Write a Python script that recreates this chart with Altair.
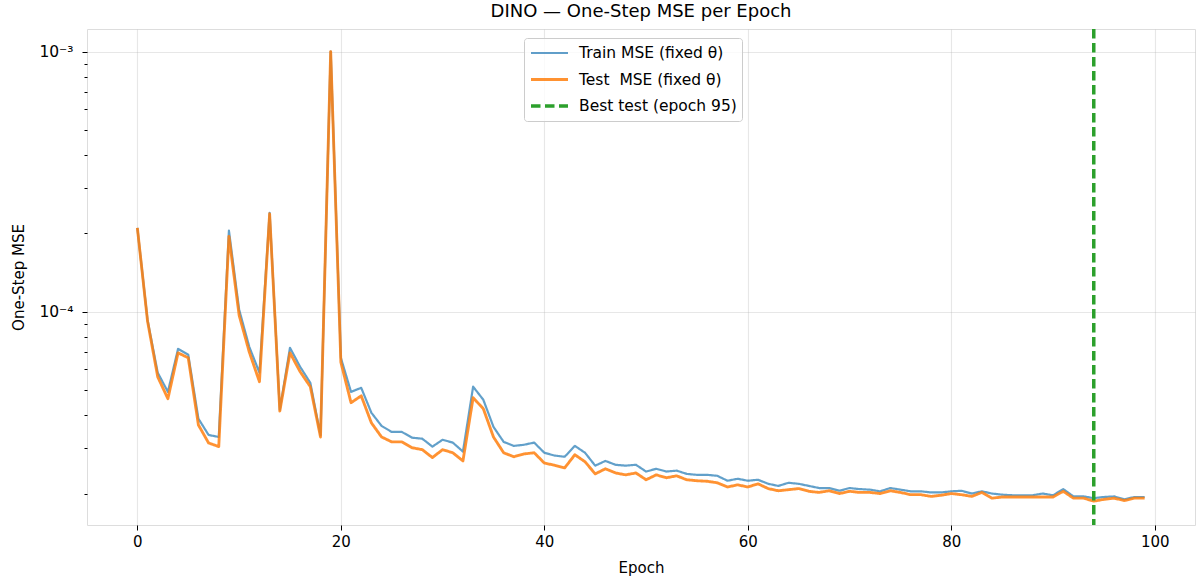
import altair as alt
import pandas as pd

# One-step MSE per epoch (evaluated with fixed theta)
epochs = list(range(100))

train_mse = [
    2.1e-4, 9.3e-5, 5.83e-5, 4.92e-5, 7.2e-5, 6.84e-5, 3.88e-5, 3.36e-5, 3.3e-5, 2.05e-4,
    1.02e-4, 7.33e-5, 5.83e-5, 2.4e-4, 4.2e-5, 7.27e-5, 6.14e-5, 5.33e-5, 3.35e-5, 1.0e-3,
    6.65e-5, 4.92e-5, 5.1e-5, 4.09e-5, 3.64e-5, 3.45e-5, 3.45e-5, 3.28e-5, 3.25e-5, 3.03e-5,
    3.22e-5, 3.14e-5, 2.9e-5, 5.15e-5, 4.59e-5, 3.61e-5, 3.16e-5, 3.05e-5, 3.08e-5, 3.14e-5,
    2.87e-5, 2.8e-5, 2.77e-5, 3.05e-5, 2.87e-5, 2.56e-5, 2.67e-5, 2.58e-5, 2.56e-5, 2.58e-5,
    2.43e-5, 2.49e-5, 2.43e-5, 2.45e-5, 2.38e-5, 2.36e-5, 2.36e-5, 2.34e-5, 2.24e-5, 2.28e-5,
    2.24e-5, 2.26e-5, 2.18e-5, 2.14e-5, 2.2e-5, 2.18e-5, 2.14e-5, 2.1e-5, 2.1e-5, 2.05e-5,
    2.1e-5, 2.08e-5, 2.07e-5, 2.04e-5, 2.1e-5, 2.07e-5, 2.04e-5, 2.04e-5, 2.02e-5, 2.02e-5,
    2.04e-5, 2.05e-5, 2.0e-5, 2.04e-5, 2.0e-5, 1.98e-5, 1.97e-5, 1.97e-5, 1.97e-5, 2.0e-5,
    1.97e-5, 2.08e-5, 1.95e-5, 1.95e-5, 1.92e-5, 1.94e-5, 1.95e-5, 1.9e-5, 1.94e-5, 1.94e-5,
]

test_mse = [
    2.1e-4, 9.2e-5, 5.62e-5, 4.63e-5, 6.95e-5, 6.65e-5, 3.67e-5, 3.13e-5, 3.03e-5, 1.95e-4,
    9.7e-5, 7.0e-5, 5.38e-5, 2.38e-4, 4.15e-5, 6.95e-5, 5.88e-5, 5.15e-5, 3.3e-5, 1.0e-3,
    6.4e-5, 4.47e-5, 4.75e-5, 3.74e-5, 3.3e-5, 3.16e-5, 3.16e-5, 3.0e-5, 2.95e-5, 2.75e-5,
    2.95e-5, 2.87e-5, 2.67e-5, 4.67e-5, 4.24e-5, 3.3e-5, 2.87e-5, 2.77e-5, 2.84e-5, 2.87e-5,
    2.62e-5, 2.57e-5, 2.51e-5, 2.82e-5, 2.65e-5, 2.38e-5, 2.49e-5, 2.4e-5, 2.36e-5, 2.4e-5,
    2.26e-5, 2.36e-5, 2.3e-5, 2.34e-5, 2.26e-5, 2.24e-5, 2.23e-5, 2.2e-5, 2.12e-5, 2.16e-5,
    2.12e-5, 2.18e-5, 2.09e-5, 2.05e-5, 2.07e-5, 2.09e-5, 2.04e-5, 2.02e-5, 2.05e-5, 2.0e-5,
    2.04e-5, 2.02e-5, 2.02e-5, 2.0e-5, 2.05e-5, 2.02e-5, 1.98e-5, 1.98e-5, 1.95e-5, 1.97e-5,
    2.0e-5, 1.98e-5, 1.95e-5, 2.02e-5, 1.92e-5, 1.94e-5, 1.94e-5, 1.94e-5, 1.94e-5, 1.94e-5,
    1.94e-5, 2.04e-5, 1.92e-5, 1.92e-5, 1.87e-5, 1.9e-5, 1.92e-5, 1.88e-5, 1.92e-5, 1.92e-5,
]

best_epoch = [94]

series_names = ["Train MSE (fixed θ)", "Test \u00a0MSE (fixed θ)", "Best test (epoch 95)"]
series_colors = ["#1f77b4", "#ff7f0e", "#2ca02c"]
series_widths = [2.2, 3.5, 1.5]
series_opacity = [0.7, 1.0, 0.85]
series_dash = [[1, 0], [1, 0], [9.5, 4.5]]

x_ticks = [0, 20, 40, 60, 80, 100]
y_ticks = [2e-5, 3e-5, 4e-5, 5e-5, 6e-5, 7e-5, 8e-5, 9e-5, 1e-4,
           2e-4, 3e-4, 4e-4, 5e-4, 6e-4, 7e-4, 8e-4, 9e-4, 1e-3]

train_df = pd.DataFrame({"epoch": epochs, "mse": train_mse, "series": series_names[0]})
test_df = pd.DataFrame({"epoch": epochs, "mse": test_mse, "series": series_names[1]})
best_df = pd.DataFrame({"epoch": best_epoch, "series": series_names[2]})

FONT = "DejaVu Sans"
MAJOR = "datum.value == 0.001 || datum.value == 0.0001"

legend = alt.Legend(
    orient="none", legendX=437, legendY=9,
    symbolType="stroke", symbolSize=1369, clipHeight=20,
    rowPadding=6.5, labelOffset=9, padding=5,
    strokeColor="#cccccc", fillColor="rgba(255,255,255,0.8)", cornerRadius=3,
    labelFont=FONT, labelFontSize=15.5, labelColor="black", labelLimit=0,
)

color = alt.Color("series:N", scale=alt.Scale(domain=series_names, range=series_colors),
                  legend=legend, title=None)
dash = alt.StrokeDash("series:N", scale=alt.Scale(domain=series_names, range=series_dash),
                      legend=legend, title=None)
width = alt.StrokeWidth("series:N", scale=alt.Scale(domain=series_names, range=series_widths),
                        legend=legend, title=None)
opacity = alt.Opacity("series:N", scale=alt.Scale(domain=series_names, range=series_opacity),
                      legend=legend, title=None)

x_enc = alt.X(
    "epoch:Q",
    scale=alt.Scale(domain=[-4.95, 103.95], nice=False, zero=False),
    axis=alt.Axis(
        values=x_ticks, title="Epoch", domain=False,
        grid=True, gridColor="#b0b0b0", gridOpacity=0.3, gridWidth=1.1,
        tickColor="black", tickSize=5, tickWidth=1,
        labelFont=FONT, labelFontSize=15, labelColor="black", labelPadding=4,
        labelFlush=False,
        titleFont=FONT, titleFontSize=15, titleFontWeight="normal", titleColor="black",
        titleY=47, titleBaseline="alphabetic",
    ),
)

y_enc = alt.Y(
    "mse:Q",
    scale=alt.Scale(type="log", domain=[1.514e-5, 1.222e-3], nice=False),
    axis=alt.Axis(
        values=y_ticks, title="One-Step MSE", domain=False,
        labelExpr="datum.value == 0.001 ? '10⁻³' : (datum.value == 0.0001 ? '10⁻⁴' : '')",
        labelOverlap=False,
        grid=True, gridColor="#b0b0b0", gridWidth=1.1,
        gridOpacity={"condition": {"test": MAJOR, "value": 0.3}, "value": 0},
        tickColor="black", tickWidth=1,
        tickSize={"condition": {"test": MAJOR, "value": 5}, "value": 3},
        labelFont=FONT, labelFontSize=15.5, labelColor="black", labelPadding=9,
        titleFont=FONT, titleFontSize=15, titleFontWeight="normal", titleColor="black",
        titleAngle=270, titleX=-64, titleY=248, titleAlign="center",
        titleBaseline="alphabetic",
    ),
)

train_line = alt.Chart(train_df).mark_line(strokeJoin="round").encode(
    x=x_enc, y=y_enc, color=color, strokeDash=dash, strokeWidth=width, opacity=opacity
)
test_line = alt.Chart(test_df).mark_line(strokeJoin="round").encode(
    x=x_enc, y=y_enc, color=color, strokeDash=dash, strokeWidth=width, opacity=opacity
)
best_rule = alt.Chart(best_df).mark_rule().encode(
    x=x_enc, color=color, strokeDash=dash, strokeWidth=width, opacity=opacity
)

chart = (
    alt.layer(train_line, test_line, best_rule)
    .properties(
        width=1108, height=496,
        title=alt.TitleParams(
            "DINO — One-Step MSE per Epoch",
            font=FONT, fontSize=18, fontWeight="normal", color="black",
            anchor="middle", offset=6,
        ),
        autosize=alt.AutoSizeParams(type="none"),
        padding={"left": 87, "top": 29, "right": 3, "bottom": 58},
    )
    .configure_view(stroke="black", strokeWidth=1)
    .configure(background="white")
)

chart.save("out.html", embed_options={"renderer": "svg", "actions": False})
